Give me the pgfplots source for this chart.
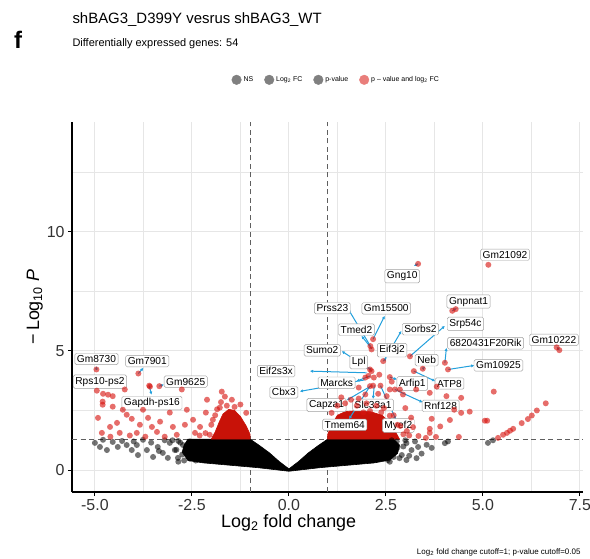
\documentclass[border=0pt]{standalone}
\usepackage{pgfplots}
\pgfplotsset{compat=1.18}
\usepackage{pgfplotstable}
\usepackage{fontspec}
\setmainfont{Liberation Sans}
\usetikzlibrary{arrows.meta}

\definecolor{ptred}{RGB}{215,20,15}
\definecolor{densered}{RGB}{200,18,8}
\definecolor{conn}{RGB}{35,160,220}
\definecolor{gridc}{RGB}{230,230,230}
\definecolor{cutc}{RGB}{95,95,95}

% non-significant points outside the dense cloud
\pgfplotstableread{
x y
-5.00 1.14
-4.87 0.97
-4.69 0.84
-4.54 1.18
-4.41 0.97
-4.18 1.05
-3.92 1.05
-3.89 0.63
-3.66 0.84
-3.38 0.97
-3.25 0.72
-3.07 1.14
-2.94 0.84
-2.86 0.51
-2.73 1.05
-2.60 0.76
-2.47 0.97
-2.37 0.55
-2.29 1.14
-3.50 0.55
-3.76 1.27
-4.05 0.84
-4.79 1.27
-3.12 0.51
-4.30 1.22
-4.00 1.20
-3.55 1.15
-3.20 1.25
-2.85 1.22
-2.55 1.20
-2.65 0.90
-2.80 1.15
-2.75 0.65
-2.55 0.48
-2.90 0.85
-3.00 1.25
-3.35 0.80
-2.45 0.70
-2.40 0.40
-2.70 0.40
-2.60 1.05
-2.85 0.35
2.78 1.20
2.95 0.99
2.91 0.63
3.03 1.13
3.16 0.84
3.33 0.97
3.42 0.69
3.55 1.06
3.68 0.93
3.29 0.50
4.02 1.13
4.10 1.20
3.03 0.42
2.55 0.42
5.13 1.14
5.26 1.25
2.65 1.25
2.80 0.95
2.70 0.55
2.85 0.50
3.00 1.25
3.25 1.20
2.60 0.35
3.10 0.60
2.75 0.80
2.55 1.10
}\nspts

% significant points (p-value and log2 FC)
\pgfplotstableread{
x y
-4.95 3.33
-4.79 3.20
-4.66 3.16
-4.54 3.10
-4.80 2.87
-4.80 2.74
-4.23 3.38
-3.58 3.50
-2.76 3.38
-1.73 3.29
-1.65 3.08
-1.47 2.95
-2.14 2.41
-4.28 2.53
-4.05 2.15
-4.92 2.19
-3.63 2.19
-3.07 2.41
-2.47 2.11
-4.61 1.81
-4.43 1.98
-3.84 1.90
-3.53 1.81
-3.32 2.03
-2.99 1.81
-2.68 1.90
-2.29 1.81
-4.82 1.56
-4.36 1.56
-3.92 1.56
-3.40 1.60
-2.89 1.48
-2.42 1.56
-2.04 1.48
-4.18 2.32
-3.76 2.53
-4.54 2.66
-1.96 2.11
-1.78 2.62
-2.11 2.95
-2.63 2.53
-4.96 4.22
-3.88 4.05
-3.34 3.52
-3.60 3.54
-1.10 2.40
-1.25 2.75
-1.90 2.30
-2.00 1.90
-2.15 1.55
-1.75 2.85
-2.30 1.45
-3.20 1.40
-3.70 1.40
-4.10 1.45
-4.60 1.40
-1.40 2.65
-1.60 2.70
-1.85 2.55
5.14 8.61
3.33 8.65
4.21 6.68
4.30 6.75
6.97 5.03
6.90 5.15
2.13 5.06
2.17 5.49
2.10 5.20
2.43 4.57
3.12 4.77
2.09 4.22
2.13 4.15
2.05 3.95
1.97 3.88
2.19 3.88
2.33 4.00
2.60 3.90
3.22 4.15
3.45 4.25
4.10 4.22
4.02 4.50
2.09 3.52
2.17 3.54
2.36 3.54
1.80 3.46
2.60 3.38
2.73 3.38
1.97 3.17
1.80 3.00
2.52 3.10
2.94 3.17
3.28 3.38
3.63 3.24
4.06 3.10
4.44 3.03
4.44 2.40
4.15 2.10
3.90 1.83
3.63 1.56
3.34 1.43
3.04 1.64
2.87 1.85
2.60 2.28
2.38 2.42
2.09 2.48
1.92 2.42
5.28 3.29
4.66 2.45
5.05 2.07
5.11 2.07
4.26 2.53
3.68 2.15
3.63 1.73
3.79 1.39
4.38 1.39
3.53 1.35
5.39 1.35
5.52 1.48
5.62 1.56
5.70 1.65
5.78 1.73
6.00 1.97
6.16 2.14
6.26 2.29
6.39 2.50
6.62 2.80
1.10 2.40
1.25 2.70
1.45 2.80
1.60 2.95
1.75 2.70
2.00 2.80
2.25 2.70
2.45 2.60
2.70 2.30
2.80 1.90
2.95 1.50
3.10 1.45
3.20 1.80
3.81 3.50
2.86 3.38
2.65 3.71
1.35 3.05
2.30 3.20
3.00 2.60
3.15 2.20
}\sigpts

\begin{document}
\begin{tikzpicture}[
  lab/.style={draw=gray!75, fill=white, rounded corners=1.5bp, inner sep=2.1bp,
              line width=0.45bp, font=\fontsize{10.2}{11}\selectfont},
  conn/.style={color=conn, line width=1bp, -{Latex[length=3.2bp,width=3.2bp]}}]
\useasboundingbox (-72bp,-67bp) rectangle (518bp,492bp);

\begin{axis}[
    width=511bp, height=370bp, scale only axis,
    xmin=-5.59, xmax=7.58, ymin=-0.92, ymax=14.6,
    axis x line*=bottom, axis y line*=left,
    axis line style={line width=1.1bp, black},
    tick align=outside, major tick length=4bp,
    tick style={black, line width=0.9bp},
    minor tick length=0pt,
    xtick={-5,-2.5,0,2.5,5,7.5},
    xticklabels={-5.0,-2.5,0.0,2.5,5.0,7.5},
    minor xtick={-3.75,-1.25,1.25,3.75,6.25},
    ytick={0,5,10}, yticklabels={0,5,10},
    minor ytick={2.5,7.5,12.5},
    grid=both,
    major grid style={gridc, line width=1bp},
    minor grid style={gridc, line width=0.55bp},
    ticklabel style={font=\fontsize{16}{18}\selectfont, text=black!80},
    xlabel={Log\textsubscript{2} fold change},
    ylabel={\textminus\,Log\textsubscript{10} \textit{P}},
    label style={font=\fontsize{18}{20}\selectfont},
    xlabel style={at={(axis description cs:0.424,0)}, yshift=-19bp},
    ylabel style={yshift=-3bp},
    legend columns=4,
    legend style={at={(0.517,1.114)}, anchor=center, draw=none, fill=none,
                  font=\fontsize{7}{8}\selectfont,
                  /tikz/every even column/.append style={column sep=9bp}},
    clip=false,
]
\addlegendimage{legend image code/.code={\fill[gray] (0bp,0bp) circle (4.8bp);}}
\addlegendentry{NS}
\addlegendimage{legend image code/.code={\fill[gray] (0bp,0bp) circle (4.8bp);}}
\addlegendentry{Log\textsubscript{2} FC}
\addlegendimage{legend image code/.code={\fill[gray] (0bp,0bp) circle (4.8bp);}}
\addlegendentry{p-value}
\addlegendimage{legend image code/.code={\fill[ptred!55] (0bp,0bp) circle (4.8bp);}}
\addlegendentry{p -- value and log\textsubscript{2} FC}

% cutoff lines
\addplot[forget plot, cutc, dashed, line width=0.8bp, dash pattern=on 5bp off 3.5bp]
  coordinates {(-1,-0.92) (-1,14.6)};
\addplot[forget plot, cutc, dashed, line width=0.8bp, dash pattern=on 5bp off 3.5bp]
  coordinates {(1,-0.92) (1,14.6)};
\addplot[forget plot, cutc, dashed, line width=0.8bp, dash pattern=on 5bp off 3.5bp]
  coordinates {(-5.59,1.3) (7.58,1.3)};

% dense cloud of non-significant genes
\addplot[forget plot, fill=black, draw=black, line width=0.6bp] coordinates {
 (-2.6,1.3) (-1.0,1.3) (-0.75,1.02) (-0.5,0.72) (-0.25,0.36) (0,0.05)
 (0.25,0.36) (0.5,0.72) (0.75,1.02) (1.0,1.3) (2.7,1.3) (2.85,1.05)
 (2.8,0.7) (2.6,0.42) (2.2,0.3) (1.5,0.2) (0.8,0.1) (0,-0.05)
 (-0.8,0.1) (-1.5,0.2) (-2.2,0.3) (-2.6,0.4) (-2.75,0.75) (-2.7,1.05)
} -- cycle;
\addplot[forget plot, only marks, mark=*, mark size=3bp,
  mark options={draw opacity=0, line width=0pt, fill=black, fill opacity=0.55}] table {\nspts};

% dense significant regions
\addplot[forget plot, fill=densered, draw=densered, line width=0.6bp] coordinates {
 (-1.0,1.3) (-1.0,1.5) (-1.1,1.85) (-1.25,2.25) (-1.4,2.5) (-1.55,2.55)
 (-1.7,2.35) (-1.8,2.0) (-1.9,1.6) (-2.0,1.3)
} -- cycle;
\addplot[forget plot, fill=densered, draw=densered, line width=0.6bp] coordinates {
 (1.0,1.3) (1.0,1.5) (1.1,1.9) (1.25,2.3) (1.45,2.45) (1.8,2.5)
 (2.1,2.45) (2.4,2.3) (2.6,2.0) (2.75,1.6) (2.85,1.3)
} -- cycle;
\addplot[forget plot, only marks, mark=*, mark size=3bp,
  mark options={draw opacity=0, line width=0pt, fill=ptred, fill opacity=0.62}] table {\sigpts};

% connectors
\addplot[forget plot, conn] coordinates {(3.33,8.65) (3.22,8.56)};
\addplot[forget plot, conn] coordinates {(4.21,6.68) (4.33,6.80)};
\addplot[forget plot, conn] coordinates {(3.12,4.77) (4.02,6.05)};
\addplot[forget plot, conn] coordinates {(2.47,4.64) (2.90,5.84)};
\addplot[forget plot, conn] coordinates {(2.17,5.49) (2.47,6.47)};
\addplot[forget plot, conn] coordinates {(2.10,5.20) (1.53,6.75)};
\addplot[forget plot, conn] coordinates {(2.14,5.08) (1.87,5.63)};
\addplot[forget plot, conn] coordinates {(2.43,4.57) (2.52,4.71)};
\addplot[forget plot, conn] coordinates {(2.09,4.22) (1.36,4.99)};
\addplot[forget plot, conn] coordinates {(2.13,4.15) (2.04,4.33)};
\addplot[forget plot, conn] coordinates {(2.00,4.08) (0.54,4.15)};
\addplot[forget plot, conn] coordinates {(1.95,3.78) (0.28,3.30)};
\addplot[forget plot, conn] coordinates {(2.10,3.95) (1.74,3.73)};
\addplot[forget plot, conn] coordinates {(2.13,3.54) (1.49,2.93)};
\addplot[forget plot, conn] coordinates {(2.20,3.55) (2.17,2.98)};
\addplot[forget plot, conn] coordinates {(2.09,3.52) (1.55,2.14)};
\addplot[forget plot, conn] coordinates {(2.36,3.54) (2.76,2.11)};
\addplot[forget plot, conn] coordinates {(2.60,3.90) (2.79,3.80)};
\addplot[forget plot, conn] coordinates {(3.22,4.15) (3.77,3.73)};
\addplot[forget plot, conn] coordinates {(3.45,4.25) (3.51,4.33)};
\addplot[forget plot, conn] coordinates {(2.73,3.38) (3.45,2.84)};
\addplot[forget plot, conn] coordinates {(4.02,4.50) (4.06,5.13)};
\addplot[forget plot, conn] coordinates {(4.11,4.22) (4.78,4.39)};
\addplot[forget plot, conn] coordinates {(6.97,5.03) (6.90,5.18)};
\addplot[forget plot, conn] coordinates {(-4.96,4.22) (-4.96,4.36)};
\addplot[forget plot, conn] coordinates {(-3.88,4.05) (-3.75,4.29)};
\addplot[forget plot, conn] coordinates {(-3.34,3.52) (-3.22,3.59)};
\addplot[forget plot, conn] coordinates {(-3.60,3.54) (-3.54,3.16)};

% gene labels
\node[lab] at (axis cs:5.57,9.03) {Gm21092};
\node[lab] at (axis cs:2.92,8.13) {Gng10};
\node[lab] at (axis cs:4.63,7.07) {Gnpnat1};
\node[lab] at (axis cs:4.55,6.13) {Srp54c};
\node[lab] at (axis cs:3.39,5.91) {Sorbs2};
\node[lab] at (axis cs:2.51,6.78) {Gm15500};
\node[lab] at (axis cs:1.12,6.79) {Prss23};
\node[lab] at (axis cs:1.74,5.89) {Tmed2};
\node[lab] at (axis cs:2.66,5.03) {Eif3j2};
\node[lab] at (axis cs:0.86,5.02) {Sumo2};
\node[lab] at (axis cs:1.80,4.53) {Lpl};
\node[lab] at (axis cs:-0.33,4.15) {Eif2s3x};
\node[lab] at (axis cs:-0.13,3.26) {Cbx3};
\node[lab] at (axis cs:1.23,3.66) {Marcks};
\node[lab] at (axis cs:0.97,2.73) {Capza1};
\node[lab] at (axis cs:2.17,2.73) {Slc33a1};
\node[lab] at (axis cs:1.44,1.90) {Tmem64};
\node[lab] at (axis cs:2.82,1.87) {Myef2};
\node[lab] at (axis cs:3.18,3.63) {Arfip1};
\node[lab] at (axis cs:4.14,3.63) {ATP8};
\node[lab] at (axis cs:3.55,4.61) {Neb};
\node[lab] at (axis cs:3.91,2.69) {Rnf128};
\node[lab] at (axis cs:5.07,5.32) {6820431F20Rik};
\node[lab] at (axis cs:5.40,4.39) {Gm10925};
\node[lab] at (axis cs:6.83,5.46) {Gm10222};
\node[lab] at (axis cs:-4.96,4.66) {Gm8730};
\node[lab] at (axis cs:-3.65,4.57) {Gm7901};
\node[lab] at (axis cs:-4.87,3.71) {Rps10-ps2};
\node[lab] at (axis cs:-2.66,3.71) {Gm9625};
\node[lab] at (axis cs:-3.53,2.81) {Gapdh-ps16};
\end{axis}

\node[anchor=west, font=\fontsize{15}{17}\selectfont] at (-3bp,472bp) {shBAG3\_D399Y vesrus shBAG3\_WT};
\node[anchor=west, font=\fontsize{11}{13}\selectfont] at (-3bp,448bp) {Differentially expressed genes: 54};
\node[font=\fontsize{24}{26}\bfseries] at (-54bp,452bp) {f};
\node[anchor=east, font=\fontsize{8}{9}\selectfont] at (512bp,-60bp) {Log\textsubscript{2} fold change cutoff=1; p-value cutoff=0.05};
\end{tikzpicture}
\end{document}
